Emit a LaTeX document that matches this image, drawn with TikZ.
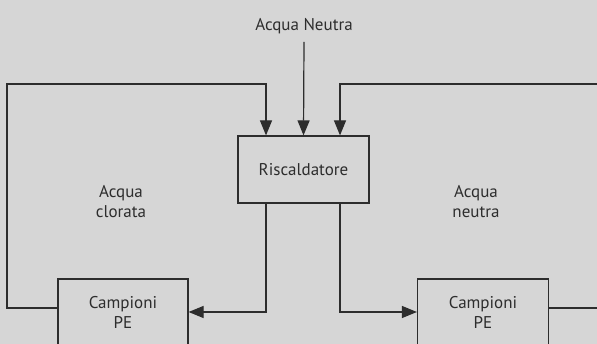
\documentclass[tikz,border=0pt]{standalone}
\usepackage{fontspec}
\setmainfont{PT Sans}
\usetikzlibrary{arrows.meta}
\definecolor{sfondo}{RGB}{214,214,214}
\definecolor{linea}{RGB}{45,45,45}

\begin{document}
\begin{tikzpicture}[x=1pt,y=-1pt,>={Triangle[length=15pt,width=12pt]},
	color=linea,line width=1.2pt,
	blocco/.style={draw,align=center,font=\fontsize{17}{20}\selectfont},
	testo/.style={align=center,font=\fontsize{17}{20}\selectfont}]
	\fill[sfondo] (0,0) rectangle (597,344);
	\useasboundingbox (0,0) rectangle (597,344);
	\clip (0,0) rectangle (597,344);
	%Blocchi
	\node[blocco,minimum width=131pt,minimum height=67pt] (risc) at (303.5,169.5) {Riscaldatore};
	\node[blocco,minimum width=130pt,minimum height=66pt] (campL) at (123,312) {Campioni\\PE};
	\node[blocco,minimum width=131pt,minimum height=66pt] (campR) at (483,312) {Campioni\\PE};
	\node[testo] (fonte) at (304,26) {Acqua Neutra};
	\node[testo] at (121,202) {Acqua\\clorata};
	\node[testo] at (476,202) {Acqua\\neutra};
	\coordinate (ingL) at (266,0);
	\coordinate (ingR) at (340,0);
	%Collegamenti
	\draw[->] (304,42) -- (risc.north);
	\draw[->] ([yshift=4pt]campL.west) -| (7,84) -| (risc.north -| ingL);
	\draw[->] ([yshift=4pt]campR.east) -| (610,84) -| (risc.north -| ingR);
	\draw[->] (risc.south -| ingL) |- (campL.east);
	\draw[->] (risc.south -| ingR) |- (campR.west);
\end{tikzpicture}
\end{document}
